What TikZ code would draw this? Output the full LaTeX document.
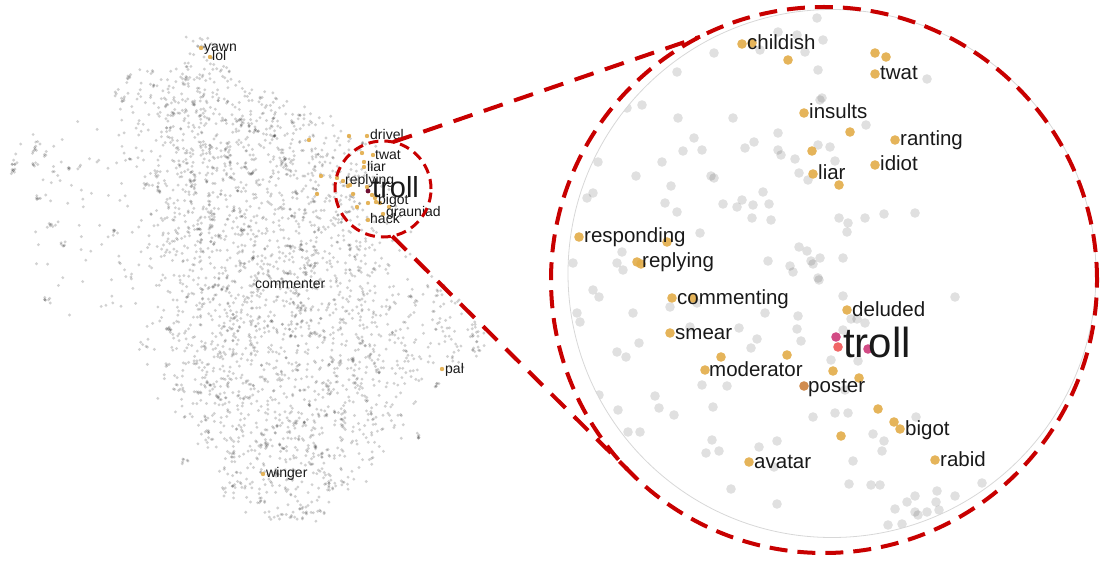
\documentclass[tikz,border=0pt]{standalone}
\usepackage{fontspec}
\setmainfont{Liberation Sans}
\definecolor{lensred}{RGB}{200,0,0}
\definecolor{hit}{RGB}{226,172,72}
\definecolor{hitdark}{RGB}{206,134,70}
\definecolor{trollmag}{RGB}{205,55,120}
\definecolor{trollred}{RGB}{238,85,85}
\definecolor{trollmaroon}{RGB}{110,15,50}
\definecolor{rim}{RGB}{215,215,215}
\definecolor{ink}{RGB}{25,25,25}

% one band of the embedding cloud: y from #1 to #2, left/right edges
% interpolated from (#3,#4) to (#5,#6); #7 single points, #8 small clumps.
% Points thin out towards the edges so the outline stays soft.
\newcommand\cloudband[8]{%
  \foreach \k in {1,...,#7}{%
    \pgfmathsetmacro\cbt{rnd}%
    \pgfmathsetmacro\cby{#1+(#2-#1)*\cbt+8*(rnd-0.5)}%
    \pgfmathsetmacro\cbl{#3+(#5-#3)*\cbt}%
    \pgfmathsetmacro\cbr{#4+(#6-#4)*\cbt}%
    \pgfmathsetmacro\cbx{(\cbl+\cbr)/2+(\cbr-\cbl)/2*1.12*(1.5*rnd-0.75+0.5*rnd-0.25)}%
    \fill[cloud] (\cbx,\cby) circle[radius=1.6pt];
  }%
  \foreach \k in {1,...,#8}{%
    \pgfmathsetmacro\cbt{rnd}%
    \pgfmathsetmacro\cby{#1+(#2-#1)*\cbt}%
    \pgfmathsetmacro\cbl{#3+(#5-#3)*\cbt}%
    \pgfmathsetmacro\cbr{#4+(#6-#4)*\cbt}%
    \pgfmathsetmacro\cbx{(\cbl+\cbr)/2+(\cbr-\cbl)/2*(1.5*rnd-0.75+0.5*rnd-0.25)}%
    \foreach \m in {1,...,4}{%
      \pgfmathsetmacro\cdx{\cbx+6*(rnd-0.5)}%
      \pgfmathsetmacro\cdy{\cby+6*(rnd-0.5)}%
      \fill[cloud] (\cdx,\cdy) circle[radius=1.6pt];
    }%
  }%
}
% a dark clump at a given place
\newcommand\clump[2]{%
  \foreach \m in {1,...,6}{%
    \pgfmathsetmacro\cdx{#1+6*(rnd-0.5)}%
    \pgfmathsetmacro\cdy{#2+6*(rnd-0.5)}%
    \fill[cloud] (\cdx,\cdy) circle[radius=1.6pt];
  }%
}

\begin{document}
\begin{tikzpicture}[x=1pt,y=-1pt,
  cloud/.style={fill=black, fill opacity=0.18},
  hitdot/.style={fill=hit, fill opacity=0.9},
  fog/.style={fill=black, fill opacity=0.12},
  bighit/.style={fill=hit, fill opacity=0.9},
  lbl/.style={font=\fontsize{14}{16}\selectfont, inner sep=0, anchor=base west, text=ink},
  biglbl/.style={font=\fontsize{20.5}{24}\selectfont, inner sep=0, anchor=base west, text=ink},
  tether/.style={draw=lensred, line width=4pt, dash pattern=on 20pt off 12pt},
  ring/.style={circle, draw=lensred, inner sep=0, outer sep=0},
]
\useasboundingbox (0,0) rectangle (1102,561);
\pgfmathsetseed{2718}

% ---------- overview cloud ----------
\cloudband{72}{95}{145}{225}{138}{285}{55}{4}
\cloudband{95}{120}{138}{285}{132}{340}{100}{7}
\cloudband{120}{140}{132}{340}{130}{368}{105}{7}
\cloudband{140}{170}{130}{368}{130}{385}{165}{11}
\cloudband{170}{200}{130}{385}{132}{395}{175}{11}
\cloudband{200}{240}{132}{395}{135}{408}{235}{14}
\cloudband{240}{280}{135}{408}{138}{420}{240}{14}
\cloudband{280}{320}{138}{420}{140}{430}{250}{14}
\cloudband{320}{345}{140}{430}{145}{440}{165}{10}
\cloudband{345}{370}{145}{440}{150}{430}{160}{10}
\cloudband{370}{400}{150}{430}{165}{425}{170}{11}
\cloudband{400}{430}{165}{425}{190}{405}{145}{10}
\cloudband{430}{460}{190}{405}{205}{380}{115}{8}
\cloudband{460}{490}{205}{380}{215}{352}{90}{7}
\cloudband{490}{518}{215}{352}{255}{322}{45}{4}
% thin right fringe
\cloudband{280}{320}{425}{450}{430}{475}{20}{1}
\cloudband{320}{345}{430}{475}{440}{495}{22}{2}
\cloudband{345}{370}{440}{495}{430}{465}{16}{1}
% sparse left arms and the top tuft
\cloudband{120}{330}{70}{135}{70}{135}{40}{1}
\cloudband{130}{320}{30}{90}{30}{90}{18}{1}
\cloudband{140}{200}{10}{60}{10}{60}{12}{1}
\cloudband{38}{70}{185}{232}{185}{232}{28}{2}
\cloudband{70}{110}{110}{145}{110}{145}{12}{1}
\foreach \px/\py in {36/149,35/164,15/163,13/172,38/197,64/244,50/226,47/300,
  115/233,160/190,173/113,218/237,255/257,283/162,128/77,320/455,262/500,
  232/455,185/462,330/488,420/436,437/386}{\clump{\px}{\py}}

% highlighted words in the overview
\foreach \px/\py in {201/48,210/57,309/140,349/136,367/136,321/176,317/194,362/153,
  373/155,364/162,364/167,337/178,343/181,348/186,350/185,353/194,357/207,367/187,
  372/195,375/198,376/202,380/203,368/220,383/214,389/207,368/203,442/369,263/474}
  {\fill[hitdot] (\px,\py) circle[radius=2.2pt];}
\fill[trollmaroon] (368,191) circle[radius=2.4pt];

\node[lbl] (o-yawn) at (204,51.5) {yawn};
\node[lbl] (o-lol) at (212,60.5) {lol};
\node[lbl] (o-drivel) at (370,140) {drivel};
\node[lbl] (o-twat) at (375,159.5) {twat};
\node[lbl] (o-liar) at (367,172) {liar};
\node[lbl] (o-replying) at (345,185) {replying};
\node[lbl, font=\fontsize{29}{32}\selectfont] (o-troll) at (372,198) {troll};
\node[lbl] (o-bigot) at (378,205) {bigot};
\node[lbl] (o-grauniad) at (386,217) {grauniad};
\node[lbl] (o-hack) at (370,224) {hack};
\node[lbl] (o-commenter) at (255,288) {commenter};
\node[lbl] (o-pal) at (445,373) {pal};
\node[lbl] (o-winger) at (266,477) {winger};

% ---------- magnified view ----------
\begin{scope}
\clip (832,273.5) circle[radius=264pt];
\foreach \px/\py in {817/18,778/32,797/35,760/50,805/52,714/53,677/72,818/70,642/105,
  627/108,678/118,733/118,820/100,778/133,694/138,754/142,745/148,683/151,702/150,
  778/150,781/155,795/159,818/145,799/173,808/180,598/162,662/162,636/176,711/176,
  714/178,671/186,593/193,587/198,763/192,742/200,723/204,737/207,753/205,769/204,
  665/203,677/212,752/218,771/220,700/233,622/252,799/247,807/251,573/263,617/263,
  623/270,768/261,790/266,811/261,813/264,793/272,818/278,
  823/40,927/79,822/98,866/125,830/147,835/161,839/218,848/223,847/232,865/218,
  884/214,915/213,820/258,843/258,
  593/290,599/297,577/313,580/322,633/313,670/307,690/327,739/328,765/313,798/316,
  797/329,801/341,757/339,751/348,639/343,617/352,626/357,702/385,727/386,599/395,
  618/410,655/396,659/408,674/415,713/407,813/417,628/432,640/432,712/440,706/453,
  719/451,759/447,777/441,774/467,731/489,777/504,697/303,819/280,
  843/296,955/297,851/319,865/323,857/319,843/330,831/360,858/361,845/390,835/413,
  848/413,916/417,873/434,884/441,882/451,853/461,849/484,871/485,880/485,982/483,
  937/491,955/496,915/496,907/502,936/502,895/509,915/512,918/515,927/512,939/510,
  888/525,902/524}
  {\fill[fog] (\px,\py) circle[radius=4.8pt];}
\foreach \px/\py in {742/44,752/43,788/60,804/113,812/151,813/174,579/237,667/242,
  637/262,641/264,875/53,886/57,875/74,850/132,895/140,875/165,839/185,672/298,
  693/298,670/333,705/370,721/357,787/355,847/310,833/371,859/378,878/409,894/422,
  900/429,841/436,935/460,749/462}
  {\fill[bighit] (\px,\py) circle[radius=4.8pt];}
\fill[hitdark, fill opacity=0.95] (804,386) circle[radius=4.8pt];
\fill[trollmag, fill opacity=0.9] (836,337) circle[radius=4.8pt];
\fill[trollred, fill opacity=0.9] (838,347) circle[radius=4.8pt];
\fill[trollmag, fill opacity=0.9] (868,349) circle[radius=4.8pt];
\end{scope}
\draw[rim, line width=0.8pt] (832,273.5) circle[radius=264pt];

\node[biglbl] (z-childish) at (747,50) {childish};
\node[biglbl] (z-twat) at (880,80) {twat};
\node[biglbl] (z-insults) at (809,119) {insults};
\node[biglbl] (z-ranting) at (900,146) {ranting};
\node[biglbl] (z-idiot) at (880,171) {idiot};
\node[biglbl] (z-liar) at (818,180) {liar};
\node[biglbl] (z-responding) at (584,243) {responding};
\node[biglbl] (z-replying) at (642,268) {replying};
\node[biglbl] (z-commenting) at (677,304) {commenting};
\node[biglbl] (z-smear) at (675,339) {smear};
\node[biglbl] (z-moderator) at (709,376) {moderator};
\node[biglbl] (z-poster) at (808,392) {poster};
\node[biglbl] (z-avatar) at (754,468) {avatar};
\node[biglbl] (z-deluded) at (852,316) {deluded};
\node[biglbl, font=\fontsize{42}{46}\selectfont] (z-troll) at (843,357) {troll};
\node[biglbl] (z-bigot) at (905,435) {bigot};
\node[biglbl] (z-rabid) at (940,466) {rabid};

% ---------- lens, magnified ring and the two tethers ----------
\node[ring, line width=3pt, dash pattern=on 10pt off 6pt, minimum size=96pt] (lens) at (383,189) {};
\node[ring, line width=4pt, dash pattern=on 18pt off 10pt, minimum size=546pt] (zoom) at (824,280) {};
\draw[tether] (lens.78) -- (zoom.117);
\draw[tether] (lens.-79) -- (zoom.224);
\end{tikzpicture}
\end{document}
